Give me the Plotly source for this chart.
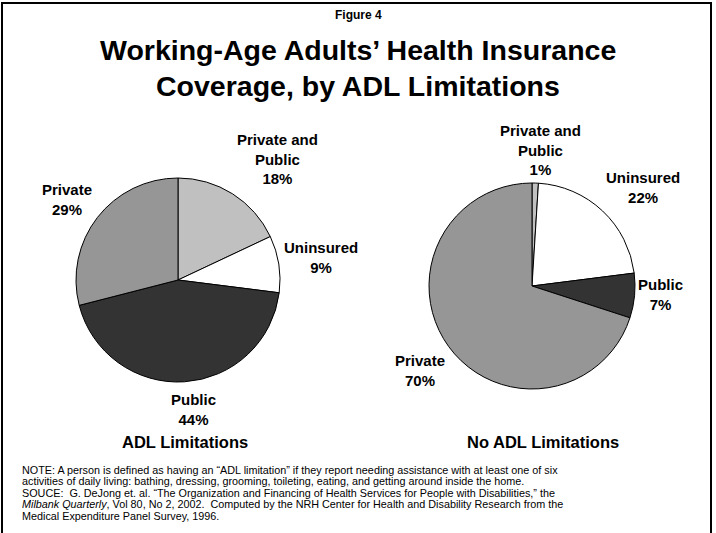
import plotly.graph_objects as go

# ---- data ----
categories = ["Private and Public", "Uninsured", "Public", "Private"]
values_adl = [18, 9, 44, 29]
values_no_adl = [1, 22, 7, 70]
slice_colors = ["#C0C0C0", "#FFFFFF", "#333333", "#969696"]
label_text = ["Private and<br>Public", "Uninsured", "Public", "Private"]
chart_titles = ["ADL Limitations", "No ADL Limitations"]

W, H = 716, 533
FONT = "Liberation Sans, Arial, sans-serif"


def px(x):
    return x / W


def py(y):
    return 1 - y / H


def dom(cx, cy, r):
    return dict(x=[px(cx - r), px(cx + r)], y=[py(cy + r), py(cy - r)])


fig = go.Figure()
pie_specs = [((178, 280, 102), values_adl), ((532, 286, 103), values_no_adl)]
for (cx, cy, r), vals in pie_specs:
    fig.add_trace(go.Pie(
        labels=categories, values=vals, sort=False, direction="clockwise",
        rotation=0, textinfo="none", hoverinfo="skip",
        marker=dict(colors=slice_colors, line=dict(color="#000000", width=1)),
        domain=dom(cx, cy, r), showlegend=False,
    ))

annotations = []


def add_text(text, x, y, size, xanchor="center", color="#000000"):
    annotations.append(dict(
        text=text, x=px(x), y=py(y), xref="paper", yref="paper",
        xanchor=xanchor, yanchor="middle", showarrow=False, align="center",
        font=dict(family=FONT, size=size, color=color),
    ))


# header
add_text("<b>Figure 4</b>", 358, 15, 12)
add_text("<b>Working-Age Adults\u2019 Health Insurance</b>", 358, 50, 28.5)
add_text("<b>Coverage, by ADL Limitations</b>", 358, 86, 28.5)

# slice labels (positions only; text from data)
left_pos = [(277, 159), (321, 257), (193, 409), (67, 200)]
right_pos = [(540, 150), (643, 188), (660, 294), (420, 370)]
for pos, vals in ((left_pos, values_adl), (right_pos, values_no_adl)):
    for (x, y), lab, v in zip(pos, label_text, vals):
        add_text(f"<b>{lab}<br>{v}%</b>", x, y, 15)

# chart subtitles
add_text(f"<b>{chart_titles[0]}</b>", 185, 442, 16.5)
add_text(f"<b>{chart_titles[1]}</b>", 543, 442, 16.5)

note_lines = [
    "NOTE: A person is defined as having an \u201cADL limitation\u201d if they report needing assistance with at least one of six",
    "activities of daily living: bathing, dressing, grooming, toileting, eating, and getting around inside the home.",
    "SOUCE:\u00a0 G. DeJong et. al. \u201cThe Organization and Financing of Health Services for People with Disabilities,\u201d the",
    "<i>Milbank Quarterly</i>, Vol 80, No 2, 2002.\u00a0 Computed by the NRH Center for Health and Disability Research from the",
    "Medical Expenditure Panel Survey, 1996.",
]
for i, line in enumerate(note_lines):
    add_text(line, 20, 470 + i * 11.4, 10.8, xanchor="left")

shapes = [dict(type="rect", xref="paper", yref="paper",
               x0=px(2), x1=px(711), y0=py(545), y1=py(3),
               line=dict(color="#000000", width=2))]

fig.update_layout(
    width=W, height=H, margin=dict(l=0, r=0, t=0, b=0),
    paper_bgcolor="#FFFFFF", plot_bgcolor="#FFFFFF",
    annotations=annotations, shapes=shapes,
)

fig.write_html("out.html")
